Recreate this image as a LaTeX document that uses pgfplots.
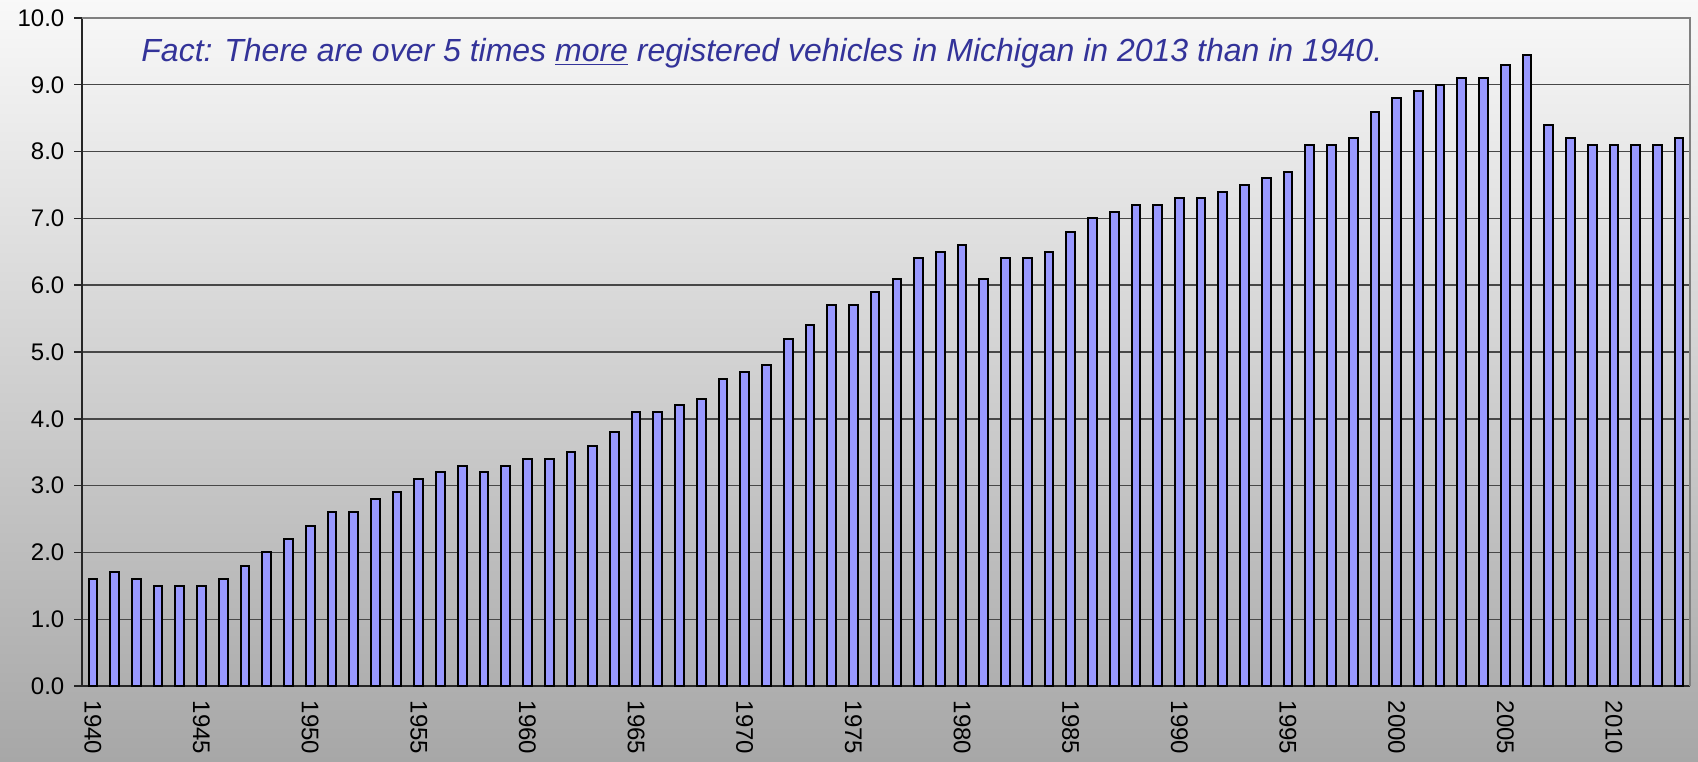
\documentclass[border=0pt]{standalone}
\usepackage{pgfplots}
\pgfplotsset{compat=1.18}
\usepackage{fontspec}
\setmainfont{Liberation Sans}
\definecolor{barfill}{HTML}{9999FF}
\definecolor{titleblue}{HTML}{333399}
\definecolor{bgtop}{gray}{0.975}
\definecolor{bgbot}{gray}{0.655}
\begin{document}
\begin{tikzpicture}[x=1pt,y=1pt]
\fill[top color=bgtop, bottom color=bgbot] (0,0) rectangle (849,380.5);
\begin{axis}[
  at={(41pt,37.5pt)}, anchor=south west,
  scale only axis, width=804pt, height=334pt,
  xmin=1939.5, xmax=2013.5, ymin=0, ymax=10,
  axis x line*=bottom, axis y line*=left,
  axis line style={black!85, line width=0.8pt},
  ytick={0,1,...,10},
  yticklabels={0.0,1.0,2.0,3.0,4.0,5.0,6.0,7.0,8.0,9.0,10.0},
  yticklabel style={font=\fontsize{12}{14}\selectfont, xshift=-1.5pt},
  xtick={1940,1945,...,2010},
  xticklabels={1940,1945,1950,1955,1960,1965,1970,1975,1980,1985,1990,1995,2000,2005,2010},
  xticklabel style={font=\fontsize{12}{14}\selectfont, rotate=-90, anchor=west},
  major x tick style={draw=none},
  extra x ticks={1939.5,1940.5,...,2013.5},
  extra x tick labels={},
  extra x tick style={major tick length=3.5pt, tick style={black!85, line width=0.7pt}, grid=none},
  tick align=outside,
  major tick length=3.8pt,
  tick style={black!85, line width=0.7pt},
  ymajorgrids, grid style={black!72, line width=0.7pt},
  clip=false,
]
\addplot[ybar, bar width=4.35pt, fill=barfill, draw=black, line width=1pt] coordinates {
(1940,1.6) (1941,1.7) (1942,1.6) (1943,1.5) (1944,1.5) (1945,1.5) (1946,1.6) (1947,1.8) (1948,2.0) (1949,2.2)
(1950,2.4) (1951,2.6) (1952,2.6) (1953,2.8) (1954,2.9) (1955,3.1) (1956,3.2) (1957,3.3) (1958,3.2) (1959,3.3)
(1960,3.4) (1961,3.4) (1962,3.5) (1963,3.6) (1964,3.8) (1965,4.1) (1966,4.1) (1967,4.2) (1968,4.3) (1969,4.6)
(1970,4.7) (1971,4.8) (1972,5.2) (1973,5.4) (1974,5.7) (1975,5.7) (1976,5.9) (1977,6.1) (1978,6.4) (1979,6.5)
(1980,6.6) (1981,6.1) (1982,6.4) (1983,6.4) (1984,6.5) (1985,6.8) (1986,7.0) (1987,7.1) (1988,7.2) (1989,7.2)
(1990,7.3) (1991,7.3) (1992,7.4) (1993,7.5) (1994,7.6) (1995,7.7) (1996,8.1) (1997,8.1) (1998,8.2) (1999,8.6)
(2000,8.8) (2001,8.9) (2002,9.0) (2003,9.1) (2004,9.1) (2005,9.3) (2006,9.45) (2007,8.4) (2008,8.2) (2009,8.1)
(2010,8.1) (2011,8.1) (2012,8.1) (2013,8.2)
};
\draw[gray, line width=1pt] (rel axis cs:0,1) -- (rel axis cs:1,1) -- (rel axis cs:1,0);
\node[anchor=base west, inner sep=0pt, text=titleblue, font=\fontsize{16}{19}\selectfont\itshape]
  at (rel axis cs:0.0367,0.935) {Fact: There are over 5 times \underline{more} registered vehicles in Michigan in 2013 than in 1940.};
\end{axis}
\end{tikzpicture}
\end{document}
